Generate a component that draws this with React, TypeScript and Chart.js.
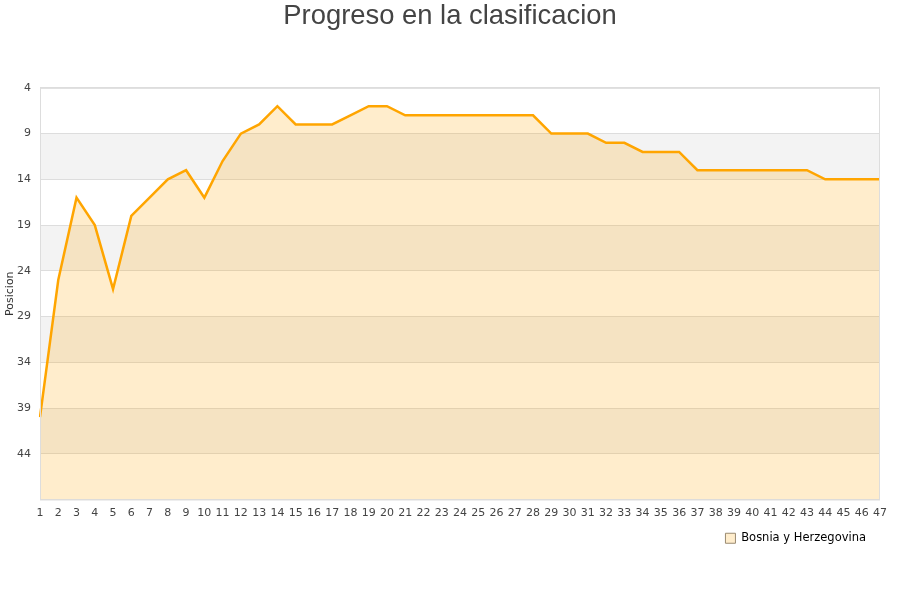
import { useEffect, useRef } from 'react';
import { Chart, registerables } from 'chart.js';

Chart.register(...registerables);

const jornadas = [
  '1', '2', '3', '4', '5', '6', '7', '8', '9', '10',
  '11', '12', '13', '14', '15', '16', '17', '18', '19', '20',
  '21', '22', '23', '24', '25', '26', '27', '28', '29', '30',
  '31', '32', '33', '34', '35', '36', '37', '38', '39', '40',
  '41', '42', '43', '44', '45', '46', '47',
];

const posiciones = [
  40, 25, 16, 19, 26, 18, 16, 14, 13, 16,
  12, 9, 8, 6, 8, 8, 8, 7, 6, 6,
  7, 7, 7, 7, 7, 7, 7, 7, 9, 9,
  9, 10, 10, 11, 11, 11, 13, 13, 13, 13,
  13, 13, 13, 14, 14, 14, 14,
];

// alternate gray bands: [from, to] in positions
const bandas = [
  [9, 14],
  [19, 24],
  [29, 34],
  [39, 44],
];

const equipo = 'Bosnia y Herzegovina';
const lineColor = '#ffa500';
const fillColor = 'rgba(255, 165, 0, 0.2)';
const gridColor = '#dddddd';

const bandsPlugin = {
  id: 'bands',
  afterLayout(chart: Chart) {
    // center the title on the whole canvas, not on the padded box
    const t = (chart as any).titleBlock;
    if (t) {
      t.left = 0;
      t.right = chart.width;
    }
  },
  beforeDraw(chart: Chart) {
    const { ctx, chartArea } = chart;
    const y = chart.scales.y;
    ctx.save();
    ctx.fillStyle = '#f3f3f3';
    bandas.forEach(([a, b]) => {
      const y1 = y.getPixelForValue(a);
      const y2 = y.getPixelForValue(b);
      ctx.fillRect(chartArea.left, y1, chartArea.right - chartArea.left, y2 - y1);
    });
    ctx.restore();
  },
  afterDatasetsDraw(chart: Chart) {
    const { ctx, chartArea } = chart;
    ctx.save();
    ctx.strokeStyle = gridColor;
    ctx.lineWidth = 1;
    ctx.strokeRect(
      chartArea.left + 0.5,
      chartArea.top + 0.5,
      chartArea.right - chartArea.left - 1,
      chartArea.bottom - chartArea.top
    );
    ctx.restore();
  },
};

export default function App() {
  const canvasRef = useRef<HTMLCanvasElement>(null);
  const chartRef = useRef<Chart | null>(null);

  useEffect(() => {
    document.body.style.margin = '0';
    if (!canvasRef.current) return;
    if (chartRef.current) chartRef.current.destroy();

    const ctx = canvasRef.current.getContext('2d');
    if (!ctx) return;

    const tickFont = { family: '"DejaVu Sans", sans-serif', size: 11 };

    chartRef.current = new Chart(ctx, {
      type: 'line',
      data: {
        labels: jornadas,
        datasets: [{
          label: equipo,
          data: posiciones,
          borderColor: lineColor,
          backgroundColor: fillColor,
          borderWidth: 2.5,
          pointRadius: 0,
          tension: 0,
          fill: { value: 49 },
        }],
      },
      options: {
        animation: false,
        responsive: true,
        maintainAspectRatio: false,
        layout: {
          padding: { top: 0, right: 20, bottom: 46, left: 0 },
        },
        plugins: {
          title: {
            display: true,
            text: 'Progreso en la clasificacion',
            color: '#444444',
            font: { family: '"Liberation Sans", Arial, sans-serif', size: 27.4, weight: 'normal' },
            padding: { top: 0, bottom: 55 },
          },
          legend: {
            position: 'bottom',
            align: 'end',
            labels: {
              color: '#222222',
              font: { family: '"DejaVu Sans", sans-serif', size: 11.5 },
              boxWidth: 10,
              boxHeight: 10,
              padding: 14,
              generateLabels: () => [{
                text: equipo,
                fillStyle: fillColor,
                strokeStyle: '#9a8a70',
                lineWidth: 1,
                datasetIndex: 0,
              }],
            },
          },
          tooltip: { enabled: false },
        },
        scales: {
          x: {
            offset: false,
            grid: { display: false, drawTicks: false },
            border: { display: false },
            ticks: {
              color: '#444444',
              font: tickFont,
              autoSkip: false,
              maxRotation: 0,
              padding: 7,
            },
            afterFit: (scale) => { scale.height = 19; },
          },
          y: {
            reverse: true,
            min: 4,
            max: 49,
            grid: { color: gridColor, drawTicks: false },
            border: { display: false },
            title: {
              display: true,
              text: 'Posicion',
              color: '#333333',
              font: tickFont,
              padding: { top: 4, bottom: 0 },
            },
            ticks: {
              stepSize: 5,
              color: '#444444',
              font: tickFont,
              padding: 9,
              callback: (v) => (Number(v) === 49 ? '' : String(v)),
            },
            afterFit: (scale) => { scale.width = 40; },
          },
        },
      },
      plugins: [bandsPlugin],
    });

    return () => {
      if (chartRef.current) {
        chartRef.current.destroy();
        chartRef.current = null;
      }
    };
  }, []);

  return (
    <div style={{ position: 'relative', width: '900px', height: '600px' }}>
      <canvas ref={canvasRef} />
    </div>
  );
}
